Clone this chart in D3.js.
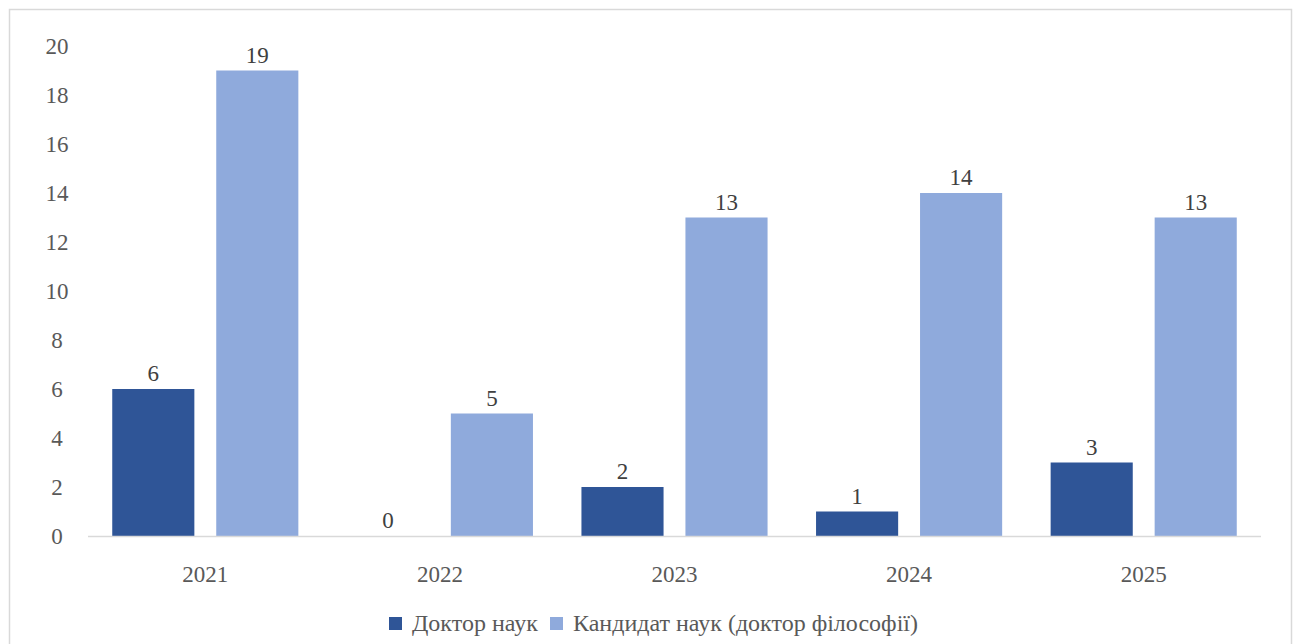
<!DOCTYPE html>
<html><head><meta charset="utf-8">
<script src="https://cdn.jsdelivr.net/npm/d3@7"></script>
<style>html,body{margin:0;padding:0;background:#fff;}svg{display:block;}</style>
</head><body>
<svg id="c" width="1297" height="644"></svg>
<script>
const categories = ["2021","2022","2023","2024","2025"];
const seriesNames = ["Доктор наук","Кандидат наук (доктор філософії)"];
const doctorValues = [6,0,2,1,3];
const candidateValues = [19,5,13,14,13];
const yTicks = [0,2,4,6,8,10,12,14,16,18,20];
const colors = ["#2F5597","#8FAADC"];

const svg = d3.select("#c");
const font = "Liberation Serif, Times New Roman, serif";
const fs = 23;
svg.append("rect").attr("x",9.5).attr("y",9.5).attr("width",1282).attr("height",640)
  .attr("fill","#fff").attr("stroke","#d9d9d9").attr("stroke-width",1.5);

const m = {l:88, r:1261, t:46, b:536};
const x = d3.scaleBand().domain(categories).range([m.l,m.r]).padding(0);
const y = d3.scaleLinear().domain([0,20]).range([m.b,m.t]);
const barW = x.bandwidth()*0.35;
const off = 52;

// y tick labels
svg.append("g").selectAll("text").data(yTicks).join("text")
  .attr("x",57).attr("y",d=>y(d)).attr("dy","0.35em").attr("text-anchor","middle")
  .style("font-family",font).attr("font-size",fs).attr("fill","#595959").text(d=>d);

const data = categories.map((c,i)=>({c, vals:[doctorValues[i],candidateValues[i]]}));
const g = svg.append("g");
data.forEach(d=>{
  d.vals.forEach((v,j)=>{
    const cx = x(d.c)+x.bandwidth()/2 + (j===0?-off:off);
    g.append("rect").attr("x",cx-barW/2).attr("y",y(v)).attr("width",barW).attr("height",y(0)-y(v)).attr("fill",colors[j]);
    g.append("text").attr("x",cx).attr("y",y(v)-8).attr("text-anchor","middle")
      .style("font-family",font).attr("font-size",fs).attr("fill","#404040").text(v);
  });
});

// baseline
svg.append("line").attr("x1",m.l).attr("x2",m.r).attr("y1",m.b+0.5).attr("y2",m.b+0.5).attr("stroke","#d9d9d9").attr("stroke-width",1.5);

// x labels
const xa = d3.axisBottom(x).tickSize(0).tickPadding(0);
const xg = svg.append("g").attr("transform",`translate(0,${m.b})`).call(xa);
xg.select(".domain").remove();
xg.selectAll("text").style("font-family",font).attr("font-size",fs).attr("fill","#595959").attr("dy",null).attr("y",46);

// legend
const leg = svg.append("g");
const lx = [389, 550];
seriesNames.forEach((n,i)=>{
  leg.append("rect").attr("x",lx[i]).attr("y",617).attr("width",13).attr("height",13).attr("fill",colors[i]);
  leg.append("text").attr("x",lx[i]+23).attr("y",631).style("font-family",font).attr("font-size",24).attr("fill","#595959").text(n);
});
</script>
</body></html>
